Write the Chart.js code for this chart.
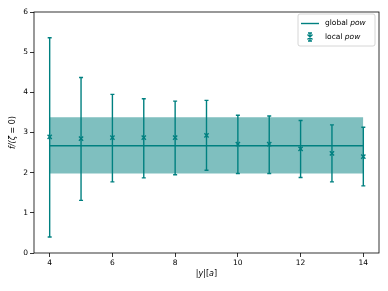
<!DOCTYPE html>
<html><head><meta charset="utf-8">
<script src="https://cdn.jsdelivr.net/npm/chart.js@4/dist/chart.umd.min.js"></script>
<style>html,body{margin:0;padding:0;background:#fff}#c{display:block}</style>
</head><body>
<canvas id="c" width="388" height="291"></canvas>
<script>
const xs = [4,5,6,7,8,9,10,11,12,13,14];
const localVal = [2.89,2.85,2.87,2.87,2.87,2.93,2.71,2.71,2.59,2.48,2.40];
const localHi  = [5.36,4.37,3.95,3.84,3.78,3.80,3.43,3.41,3.30,3.19,3.13];
const localLo  = [0.40,1.31,1.77,1.87,1.95,2.06,1.98,1.98,1.88,1.77,1.67];
const globalX = [4,14];
const globalVal = 2.67;
const globalHi = 3.38;
const globalLo = 1.98;
const xTicks = [4,6,8,10,12,14];
const yTicks = [0,1,2,3,4,5,6];

const TEAL = '#008080';
const BAND = 'rgba(0,128,128,0.5)';
const FONT = 'DejaVu Sans';

const errPlugin = {
  id:'err',
  afterDatasetsDraw(chart){
    const ctx = chart.ctx, xS = chart.scales.x, yS = chart.scales.y;
    ctx.save();
    ctx.strokeStyle = TEAL; ctx.lineWidth = 1.4;
    xs.forEach((x,i)=>{
      const px = xS.getPixelForValue(x);
      const t = yS.getPixelForValue(localHi[i]), b = yS.getPixelForValue(localLo[i]);
      ctx.beginPath();
      ctx.moveTo(px,t); ctx.lineTo(px,b);
      ctx.moveTo(px-2,t); ctx.lineTo(px+2,t);
      ctx.moveTo(px-2,b); ctx.lineTo(px+2,b);
      ctx.stroke();
    });
    ctx.restore();
  },
  afterDraw(chart){
    const ctx = chart.ctx, a = chart.chartArea;
    ctx.save();
    ctx.strokeStyle = '#000'; ctx.lineWidth = 0.8;
    ctx.strokeRect(a.left, a.top, a.right-a.left, a.bottom-a.top);
    ctx.fillStyle = '#000';
    const segX = [['|',''],['y','italic '],['|[',''],['a','italic '],[']','']];
    drawSegs(ctx, segX, (a.left+a.right)/2, 274, 8);
    ctx.save();
    ctx.translate(13,(a.top+a.bottom)/2);
    ctx.rotate(-Math.PI/2);
    const segY = [['f/(ζ','italic '],[' = 0)','']];
    drawSegs(ctx, segY, 0, 0, 8);
    ctx.restore();
    const lx=298, ly=14, lw=77, lh=32;
    ctx.fillStyle='rgba(255,255,255,0.8)';
    ctx.strokeStyle='#cccccc'; ctx.lineWidth=0.8;
    roundRect(ctx,lx,ly,lw,lh,2); ctx.fill(); ctx.stroke();
    ctx.strokeStyle=TEAL; ctx.lineWidth=1.4;
    ctx.beginPath(); ctx.moveTo(301,23.5); ctx.lineTo(319,23.5); ctx.stroke();
    const mx=310, my=37;
    ctx.beginPath();
    ctx.moveTo(mx,my-4); ctx.lineTo(mx,my+4);
    ctx.moveTo(mx-2,my-4); ctx.lineTo(mx+2,my-4);
    ctx.moveTo(mx-2,my+4); ctx.lineTo(mx+2,my+4);
    ctx.moveTo(mx-2.5,my-2.5); ctx.lineTo(mx+2.5,my+2.5);
    ctx.moveTo(mx-2.5,my+2.5); ctx.lineTo(mx+2.5,my-2.5);
    ctx.stroke();
    ctx.fillStyle='#000';
    drawSegsLeft(ctx,[['global ',''],['pow','italic ']],325,23.5,7.5);
    drawSegsLeft(ctx,[['local ',''],['pow','italic ']],325,37,7.5);
    ctx.restore();
  }
};
function roundRect(ctx,x,y,w,h,r){
  ctx.beginPath();
  ctx.moveTo(x+r,y); ctx.lineTo(x+w-r,y); ctx.quadraticCurveTo(x+w,y,x+w,y+r);
  ctx.lineTo(x+w,y+h-r); ctx.quadraticCurveTo(x+w,y+h,x+w-r,y+h);
  ctx.lineTo(x+r,y+h); ctx.quadraticCurveTo(x,y+h,x,y+h-r);
  ctx.lineTo(x,y+r); ctx.quadraticCurveTo(x,y,x+r,y); ctx.closePath();
}
function drawSegs(ctx, segs, cx, cy, size){
  let total=0;
  segs.forEach(s=>{ctx.font=s[1]+size+'px '+FONT; total+=ctx.measureText(s[0]).width;});
  drawSegsLeft(ctx, segs, cx-total/2, cy, size);
}
function drawSegsLeft(ctx, segs, x, cy, size){
  ctx.textBaseline='middle'; ctx.textAlign='left';
  segs.forEach(s=>{ctx.font=s[1]+size+'px '+FONT; ctx.fillText(s[0],x,cy); x+=ctx.measureText(s[0]).width;});
}

new Chart(document.getElementById('c'),{
  type:'scatter',
  data:{datasets:[
    {label:'hi', type:'line', data:globalX.map(x=>({x,y:globalHi})), borderWidth:0, borderColor:'rgba(0,0,0,0)', pointRadius:0, fill:'+1', backgroundColor:BAND, order:3},
    {label:'lo', type:'line', data:globalX.map(x=>({x,y:globalLo})), borderWidth:0, borderColor:'rgba(0,0,0,0)', pointRadius:0, fill:false, order:3},
    {label:'global pow', type:'line', data:globalX.map(x=>({x,y:globalVal})), borderColor:TEAL, borderWidth:1.4, pointRadius:0, fill:false, order:2},
    {label:'local pow', data:xs.map((x,i)=>({x,y:localVal[i]})), pointStyle:'crossRot', pointRadius:3, borderColor:TEAL, borderWidth:1.4, order:1}
  ]},
  options:{
    responsive:false, animation:false,
    layout:{padding:{left:0,right:9,top:12,bottom:0}},
    plugins:{legend:{display:false},tooltip:{enabled:false}},
    scales:{
      x:{type:'linear',min:3.5,max:14.5,
        afterBuildTicks(s){s.ticks=xTicks.map(v=>({value:v}));},
        afterFit(s){s.height=38;},
        grid:{display:true,drawOnChartArea:false,drawTicks:true,tickLength:4,tickColor:'#000',tickWidth:0.8},
        border:{display:false},
        ticks:{color:'#000',font:{family:FONT,size:7.5},padding:2,maxRotation:0}
      },
      y:{type:'linear',min:0,max:6,
        afterBuildTicks(s){s.ticks=yTicks.map(v=>({value:v}));},
        afterFit(s){s.width=34;},
        grid:{display:true,drawOnChartArea:false,drawTicks:true,tickLength:4,tickColor:'#000',tickWidth:0.8},
        border:{display:false},
        ticks:{color:'#000',font:{family:FONT,size:7.5},padding:2}
      }
    }
  },
  plugins:[errPlugin]
});
</script>
</body></html>
